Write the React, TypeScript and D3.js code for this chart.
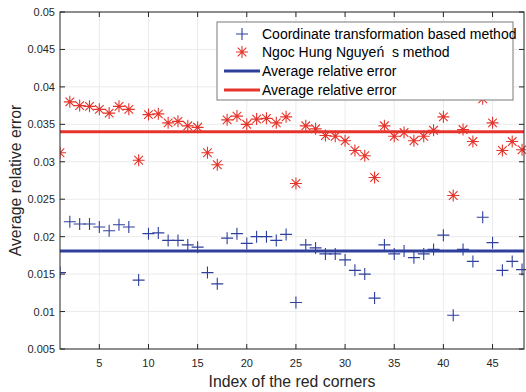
import * as d3 from "d3";

// corner index 1..48
const cornerIndex = d3.range(1, 49);

// Coordinate transformation based method (blue +)
const ctError = [
  0.0152, 0.0220, 0.0217, 0.0217, 0.0213, 0.0208, 0.0216, 0.0213, 0.0142, 0.0204,
  0.0205, 0.0195, 0.0195, 0.0189, 0.0186, 0.0152, 0.0137, 0.0198, 0.0204, 0.0191,
  0.0200, 0.0200, 0.0195, 0.0203, 0.0112, 0.0189, 0.0185, 0.0177, 0.0177, 0.0169,
  0.0155, 0.0150, 0.0118, 0.0189, 0.0177, 0.0181, 0.0172, 0.0177, 0.0183, 0.0202,
  0.0095, 0.0183, 0.0167, 0.0226, 0.0192, 0.0155, 0.0167, 0.0156,
];

// Ngoc Hung Nguyen's method (red *)
const nhnError = [
  0.0312, 0.0380, 0.0375, 0.0374, 0.0370, 0.0365, 0.0374, 0.0370, 0.0302, 0.0363,
  0.0364, 0.0352, 0.0354, 0.0348, 0.0346, 0.0312, 0.0296, 0.0356, 0.0361, 0.0350,
  0.0357, 0.0358, 0.0352, 0.0360, 0.0271, 0.0348, 0.0344, 0.0335, 0.0334, 0.0328,
  0.0315, 0.0308, 0.0279, 0.0348, 0.0334, 0.0339, 0.0328, 0.0334, 0.0342, 0.0360,
  0.0255, 0.0343, 0.0327, 0.0384, 0.0352, 0.0315, 0.0327, 0.0316,
];

const ctAverage = 0.0181;
const nhnAverage = 0.034;

const xTicks = [5, 10, 15, 20, 25, 30, 35, 40, 45];
const yTicks = [0.005, 0.01, 0.015, 0.02, 0.025, 0.03, 0.035, 0.04, 0.045, 0.05];

const legendLabels = [
  "Coordinate transformation based method",
  "Ngoc Hung Nguyeń  s method",
  "Average relative error",
  "Average relative error",
];

const BLUE = "#2e3f9c";
const RED = "#e5342b";
const INK = "#262626";
const FONT = "'Liberation Sans', Arial, Helvetica, sans-serif";

export default function App() {
  const width = 526, height = 392;
  const left = 60, right = 524, top = 12, bottom = 349;

  const x = d3.scaleLinear().domain([1, 48.2]).range([left, right]);
  const y = d3.scaleLinear().domain([0.005, 0.05]).range([bottom, top]);

  const ms = 6;
  const plus = (cx: number, cy: number, k: number) => (
    <path key={k} d={`M${cx - ms},${cy}H${cx + ms}M${cx},${cy - ms}V${cy + ms}`} stroke={BLUE} strokeWidth={1.1} fill="none" />
  );
  const star = (cx: number, cy: number, k: number) => {
    const d = ms * 0.72;
    return (
      <path key={k}
        d={`M${cx - ms},${cy}H${cx + ms}M${cx},${cy - ms}V${cy + ms}M${cx - d},${cy - d}L${cx + d},${cy + d}M${cx - d},${cy + d}L${cx + d},${cy - d}`}
        stroke={RED} strokeWidth={1.1} fill="none" />
    );
  };

  const fmt = (v: number) => String(Number(v.toFixed(3)));

  const lg = { x0: 217, y0: 22, x1: 513, y1: 100 };
  const rowY = [34, 52, 71, 90];

  return (
    <svg width={width} height={height} style={{ position: "absolute", left: 0, top: 0, background: "#fff" }} fontFamily={FONT}>
      <rect x={0} y={0} width={width} height={height} fill="#fff" />
      <defs>
        <clipPath id="plotClip">
          <rect x={left} y={top} width={right - left + 4} height={bottom - top} />
        </clipPath>
      </defs>

      {/* grid */}
      {xTicks.map((t) => (
        <line key={"gx" + t} x1={x(t)} x2={x(t)} y1={top} y2={bottom} stroke="#ebebeb" strokeWidth={1} />
      ))}
      {yTicks.map((t) => (
        <line key={"gy" + t} x1={left} x2={right} y1={y(t)} y2={y(t)} stroke="#ebebeb" strokeWidth={1} />
      ))}

      <g clipPath="url(#plotClip)">
        {cornerIndex.map((c, i) => plus(x(c), y(ctError[i]), i))}
        {cornerIndex.map((c, i) => star(x(c), y(nhnError[i]), i))}
        <line x1={left} x2={right} y1={y(ctAverage)} y2={y(ctAverage)} stroke={BLUE} strokeWidth={3} />
        <line x1={left} x2={right} y1={y(nhnAverage)} y2={y(nhnAverage)} stroke={RED} strokeWidth={3} />
      </g>

      {/* axes box */}
      <rect x={left} y={top} width={right - left} height={bottom - top} fill="none" stroke={INK} strokeWidth={1} />
      {xTicks.map((t) => (
        <g key={"tx" + t}>
          <line x1={x(t)} x2={x(t)} y1={bottom} y2={bottom - 5} stroke={INK} />
          <line x1={x(t)} x2={x(t)} y1={top} y2={top + 5} stroke={INK} />
          <text x={x(t)} y={bottom + 18} textAnchor="middle" fontSize={11} fill={INK}>{t}</text>
        </g>
      ))}
      {yTicks.map((t) => (
        <g key={"ty" + t}>
          <line x1={left} x2={left + 5} y1={y(t)} y2={y(t)} stroke={INK} />
          <line x1={right} x2={right - 5} y1={y(t)} y2={y(t)} stroke={INK} />
          <text x={left - 5} y={y(t) + 4} textAnchor="end" fontSize={11} fill={INK}>{fmt(t)}</text>
        </g>
      ))}

      <text x={(left + right) / 2} y={387} textAnchor="middle" fontSize={15.8} fill={INK}>Index of the red corners</text>
      <text transform={`translate(21,${(top + bottom) / 2}) rotate(-90)`} textAnchor="middle" fontSize={15.8} fill={INK}>Average relative error</text>

      {/* legend */}
      <rect x={lg.x0} y={lg.y0} width={lg.x1 - lg.x0} height={lg.y1 - lg.y0} fill="#fff" stroke="#7a7a7a" strokeWidth={1} />
      {plus(242, rowY[0], 900)}
      {star(242, rowY[1], 901)}
      <line x1={224} x2={260} y1={rowY[2]} y2={rowY[2]} stroke={BLUE} strokeWidth={3} />
      <line x1={224} x2={260} y1={rowY[3]} y2={rowY[3]} stroke={RED} strokeWidth={3} />
      {legendLabels.map((s, i) => (
        <text key={"lg" + i} x={262} y={rowY[i] + 5} fontSize={14} fill="#000" style={{ whiteSpace: "pre" }}>{s}</text>
      ))}
    </svg>
  );
}
